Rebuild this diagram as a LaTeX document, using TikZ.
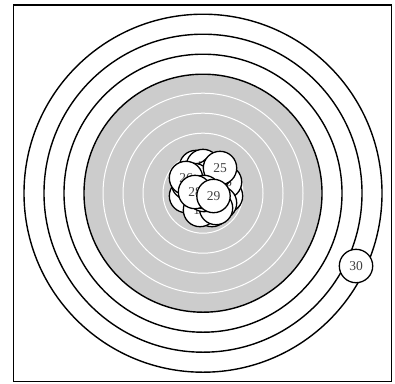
\documentclass[tikz,border=0pt]{standalone}
\usepackage{fontspec}
\setmainfont{Liberation Serif}

\begin{document}
\begin{tikzpicture}[x=1pt,y=-1pt,
  ring/.style={draw=black,line width=1.4pt},
  zone/.style={draw=white,line width=1pt},
  shot/.style={circle,draw=black,fill=white,line width=1.3pt,
    minimum size=33.4pt,inner sep=0pt,
    font=\fontsize{13.5}{13.5}\selectfont,text=black!75}]

\useasboundingbox (0,0) rectangle (395,383);

% -----------------------
% Cadre
% -----------------------
\draw[line width=1.3pt] (13.5,5) rectangle (391.5,381.5);

% -----------------------
% Cible
% -----------------------
\coordinate (O) at (203,193.2);

\foreach \r in {179,159,139}
  \draw[ring] (O) circle[radius=\r pt];

\fill[gray!40] (O) circle[radius=119pt];
\draw[ring] (O) circle[radius=119pt];

\foreach \r in {100,80,60,40,20}
  \draw[zone] (O) circle[radius=\r pt];

% -----------------------
% Impacts
% -----------------------
\foreach \n/\x/\y in {1/205/190, 2/198/185, 3/212/182, 4/208/200,
    5/195/200, 6/200/175, 7/215/190, 8/190/188, 9/222/185,
    10/205/208, 11/196/167, 12/226/196, 13/186/196, 14/212/210,
    15/203/166, 16/225/182, 17/188/183, 18/215/173, 19/200/210,
    20/220/203, 21/209/177, 22/194/180, 23/216/208, 24/204/195,
    25/220/168, 26/186/178, 27/204/192, 28/195/192, 29/213.5/196,
    30/356/266}
  \node[shot] (s\n) at (\x,\y) {\n};

\end{tikzpicture}
\end{document}
